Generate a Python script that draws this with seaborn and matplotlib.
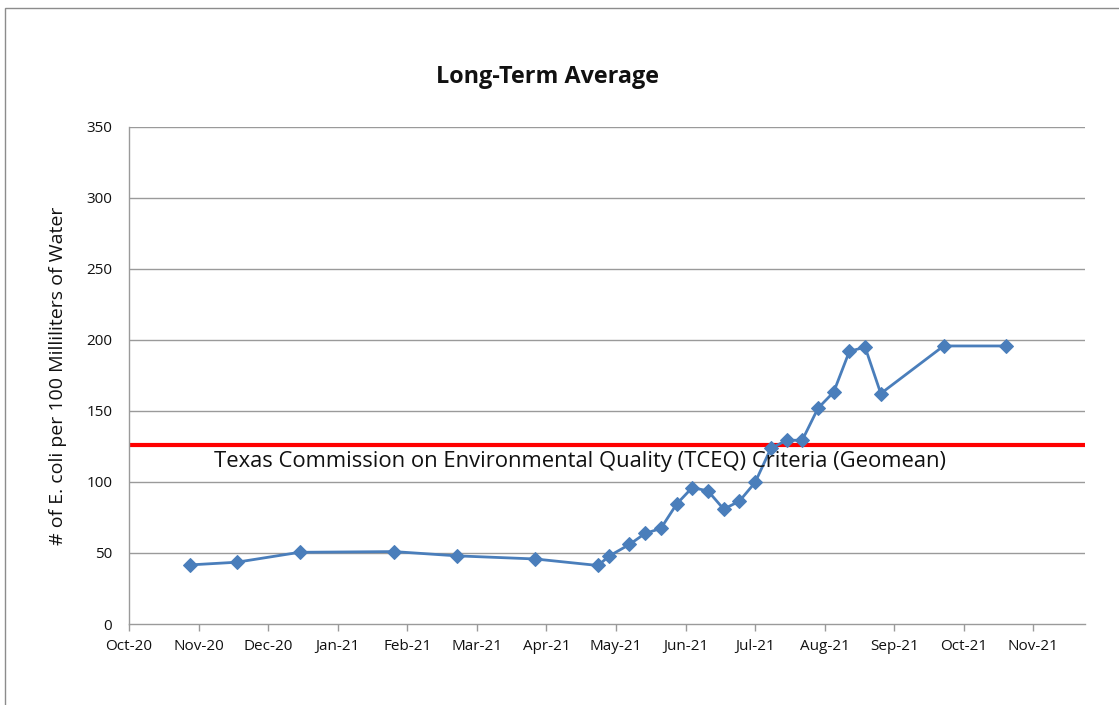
import matplotlib
matplotlib.use("Agg")
import matplotlib.pyplot as plt
import matplotlib.patches as mpatches
import seaborn as sns
import pandas as pd
import numpy as np

# ---- data ----
sample_dates = ["2020-10-28", "2020-11-18", "2020-12-16", "2021-01-27", "2021-02-24",
                "2021-03-31", "2021-04-28", "2021-05-03", "2021-05-12", "2021-05-19",
                "2021-05-26", "2021-06-02", "2021-06-09", "2021-06-16", "2021-06-23",
                "2021-06-30", "2021-07-07", "2021-07-14", "2021-07-21", "2021-07-28",
                "2021-08-04", "2021-08-11", "2021-08-18", "2021-08-25", "2021-09-01",
                "2021-09-29", "2021-10-27"]
ecoli_avg = [41.6, 43.5, 50.5, 51.0, 48.0,
             45.8, 41.2, 47.9, 56.0, 63.8,
             67.3, 84.4, 96.1, 93.7, 80.9,
             86.5, 99.7, 123.6, 129.4, 129.4,
             151.9, 163.3, 192.0, 195.0, 162.3,
             195.8, 195.8]
tick_labels = ["Oct-20", "Nov-20", "Dec-20", "Jan-21", "Feb-21", "Mar-21", "Apr-21",
               "May-21", "Jun-21", "Jul-21", "Aug-21", "Sep-21", "Oct-21", "Nov-21"]
criteria_value = 126
criteria_label = "Texas Commission on Environmental Quality (TCEQ) Criteria (Geomean)"
y_ticks = [0, 50, 100, 150, 200, 250, 300, 350]

axis_start = pd.Timestamp("2020-10-01")
tick_step_days = 31
axis_span_days = 426

df = pd.DataFrame({"date": pd.to_datetime(sample_dates), "value": ecoli_avg})
df["day"] = (df["date"] - axis_start).dt.days

sns.set_theme(style="white")
plt.rcParams["font.family"] = ["Open Sans", "DejaVu Sans"]

fig = plt.figure(figsize=(11.19, 7.05), dpi=100)
ax = fig.add_axes([129 / 1119, 1 - 624 / 705, (1085 - 129) / 1119, (624 - 127) / 705])

grid_color = "#9a9a9a"
for yv in y_ticks[1:]:
    ax.axhline(yv, color=grid_color, lw=1.0, zorder=0)

ax.axhline(criteria_value, color="#ff0000", lw=3, zorder=2)

sns.lineplot(data=df, x="day", y="value", ax=ax, color="#4a7ebb", lw=2,
             marker="D", markersize=7, markeredgecolor="#4a7ebb", zorder=3)

ax.text(0.0885, 0.326, criteria_label, transform=ax.transAxes, fontsize=15.8,
        color="#111111", ha="left", va="center", zorder=4)

ax.set_xlim(0, axis_span_days)
ax.set_ylim(0, 350)
ax.set_xticks([i * tick_step_days for i in range(len(tick_labels))])
ax.set_xticklabels(tick_labels, fontsize=11)
ax.set_yticks(y_ticks)
ax.set_yticklabels([str(v) for v in y_ticks], fontsize=11)
ax.tick_params(axis="x", length=5, width=1, color=grid_color, direction="out",
               pad=6, bottom=True, colors="#111111")
ax.tick_params(axis="x", color=grid_color)
ax.tick_params(axis="y", length=0, pad=12, colors="#111111")
ax.set_xlabel("")
ax.set_ylabel("# of E. coli per 100 Milliliters of Water", fontsize=14, color="#111111",
              labelpad=14)

for side in ["top", "right"]:
    ax.spines[side].set_visible(False)
for side in ["left", "bottom"]:
    ax.spines[side].set_color(grid_color)
    ax.spines[side].set_linewidth(1.0)

fig.text(548 / 1119, 1 - 77 / 705, "Long-Term Average", fontsize=16.8, fontweight="bold",
         ha="center", va="center", color="#111111")

border = mpatches.Rectangle((5 / 1119, -0.1), 1.2, 1.1 - 8 / 705, transform=fig.transFigure,
                            fill=False, edgecolor="#8c8c8c", lw=1.0)
fig.patches.append(border)

fig.savefig("out.png", dpi=100)
